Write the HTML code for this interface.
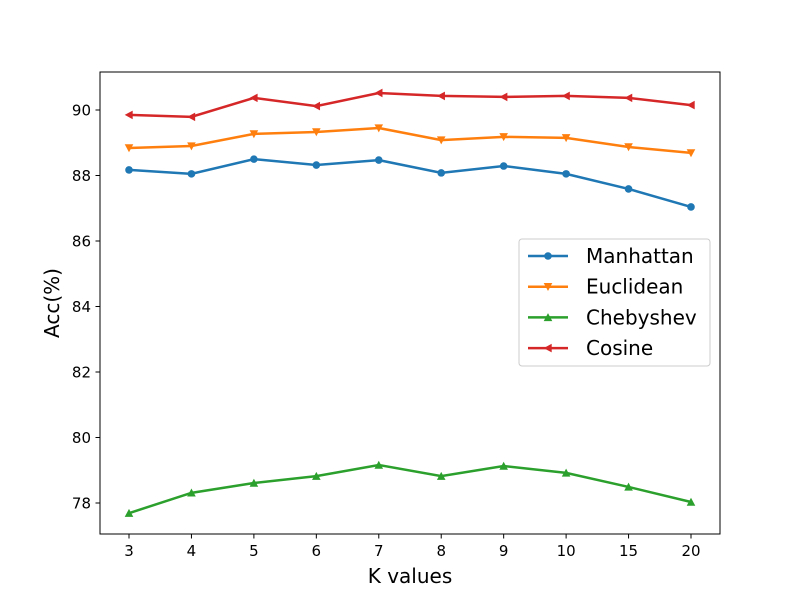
<!DOCTYPE html>
<html><head><meta charset="utf-8"><style>
body{margin:0;background:#fff}
svg text{font-family:"DejaVu Sans","Liberation Sans",sans-serif}
</style></head><body>
<svg id="chart" width="800" height="600" xmlns="http://www.w3.org/2000/svg">
<rect width="800" height="600" fill="#fff"/>
<g id="marks"></g>
<rect x="100" y="72" width="620" height="462" fill="none" stroke="#000" stroke-width="1"/>
<g id="axes"></g>
<text x="410" y="583" font-size="20" text-anchor="middle">K values</text>
<text transform="translate(59,303) rotate(-90)" font-size="20" text-anchor="middle">Acc(%)</text>
<g id="legend"></g>
</svg>
<script>
const categories=["3","4","5","6","7","8","9","10","15","20"];
const manhattan=[88.17,88.05,88.50,88.32,88.47,88.08,88.29,88.05,87.59,87.04];
const euclidean=[88.84,88.90,89.27,89.33,89.45,89.08,89.18,89.15,88.87,88.69];
const chebyshev=[77.69,78.31,78.61,78.82,79.16,78.82,79.13,78.92,78.49,78.03];
const cosine=[89.85,89.79,90.37,90.12,90.52,90.43,90.40,90.43,90.37,90.15];
const yTicks=[78,80,82,84,86,88,90];
const seriesNames=["Manhattan","Euclidean","Chebyshev","Cosine"];

const NS="http://www.w3.org/2000/svg";
const xS=i=>129+i*(691-129)/(categories.length-1);
const yS=v=>110+(90-v)*32.75;
function mk(t,a,p){const e=document.createElementNS(NS,t);for(const k in a)e.setAttribute(k,a[k]);p.appendChild(e);return e;}
const axes=document.getElementById('axes');
categories.forEach((c,i)=>{
 const x=xS(i);
 const tk=mk('line',{x1:x,x2:x,y1:534,y2:538.5,stroke:'#000'},axes);
 
 
 const t=mk('text',{x:x,y:556,'font-size':15,'text-anchor':'middle'},axes);t.textContent=c;
 
 
});
yTicks.forEach(v=>{
 const y=yS(v);
 const tk=mk('line',{x1:95.5,x2:100,y1:y,y2:y,stroke:'#000'},axes);
 
 
 const t=mk('text',{x:91,y:y+5.5,'font-size':15,'text-anchor':'end'},axes);t.textContent=v;
 
 
});
function marker(type,x,y,col,p){
 let e;
 if(type==='o')e=mk('circle',{cx:x,cy:y,r:3.8,fill:col},p);
 else if(type==='v')e=mk('polygon',{points:`${x-4.3},${y-3.7} ${x+4.3},${y-3.7} ${x},${y+4.3}`,fill:col},p);
 else if(type==='^')e=mk('polygon',{points:`${x-4.3},${y+3.7} ${x+4.3},${y+3.7} ${x},${y-4.3}`,fill:col},p);
 else e=mk('polygon',{points:`${x+3.7},${y-4.3} ${x+3.7},${y+4.3} ${x-4.3},${y}`,fill:col},p);
 return e;
}
const series=[[manhattan,'#1f77b4','o'],[euclidean,'#ff7f0e','v'],[chebyshev,'#2ca02c','^'],[cosine,'#d62728','<']];
const marks=document.getElementById('marks');
series.forEach(([d,col,m],si)=>{
 const pl=mk('polyline',{points:d.map((v,i)=>xS(i)+','+yS(v)).join(' '),fill:'none',stroke:col,'stroke-width':2.5},marks);
 
 
 d.forEach((v,i)=>{const e=marker(m,xS(i),yS(v),col,marks);
  
  });
});
const lg=document.getElementById('legend');
mk('rect',{x:519,y:239,width:191,height:127,rx:3,fill:'#fff','fill-opacity':0.8,stroke:'#ccc'},lg);
series.forEach(([d,col,m],si)=>{
 const y=256+si*30.7;
 const g=mk('g',{},lg);
 
 
 mk('line',{x1:528,x2:568,y1:y,y2:y,stroke:col,'stroke-width':2.5},g);
 marker(m,548,y,col,g);
 const t=mk('text',{x:586,y:y+7,'font-size':20},g);t.textContent=seriesNames[si];
});
</script>
</body></html>
